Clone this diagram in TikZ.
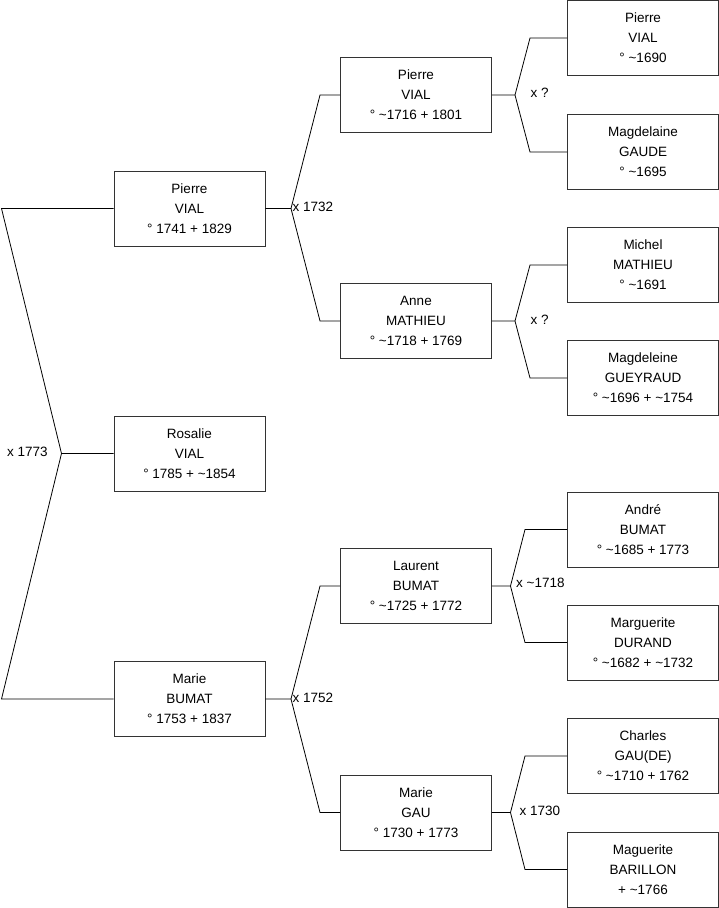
\documentclass[tikz,border=0pt]{standalone}
\usepackage{fontspec}
\setmainfont{Liberation Sans}
\usetikzlibrary{positioning}
\tikzset{
  person/.style={rectangle,draw=black!80,line width=0.9pt,minimum width=151pt,minimum height=75pt,
    align=center,inner sep=0pt,font=\fontsize{13.5}{20}\selectfont},
  link/.style={line width=0.8pt, draw=black},
  lbl/.style={font=\fontsize{13.5}{15}\selectfont,inner sep=0pt,anchor=west}
}
\begin{document}
\begin{tikzpicture}[x=1pt,y=-1pt]
\useasboundingbox (0,0) rectangle (719,908);

% generation 1
\node (pierreA) [person] at (189.5,208.5) {Pierre\\VIAL\\° 1741 + 1829};
\node (rosalie) [person] at (189.5,453.5) {Rosalie\\VIAL\\° 1785 + \textasciitilde1854};
\node (marieB) [person] at (189.5,699) {Marie\\BUMAT\\° 1753 + 1837};

% generation 2
\node (pierreB) [person] at (416,95) {Pierre\\VIAL\\° \textasciitilde1716 + 1801};
\node (anne) [person] at (416,321) {Anne\\MATHIEU\\° \textasciitilde1718 + 1769};
\node (laurent) [person] at (416,586) {Laurent\\BUMAT\\° \textasciitilde1725 + 1772};
\node (marieG) [person] at (416,812.5) {Marie\\GAU\\° 1730 + 1773};

% generation 3
\node (pierreC) [person] at (643,38) {Pierre\\VIAL\\° \textasciitilde1690};
\node (magdelaine) [person] at (643,152) {Magdelaine\\GAUDE\\° \textasciitilde1695};
\node (michel) [person] at (643,265) {Michel\\MATHIEU\\° \textasciitilde1691};
\node (magdeleine) [person] at (643,378) {Magdeleine\\GUEYRAUD\\° \textasciitilde1696 + \textasciitilde1754};
\node (andre) [person] at (643,529.5) {André\\BUMAT\\° \textasciitilde1685 + 1773};
\node (marguerite) [person] at (643,642.5) {Marguerite\\DURAND\\° \textasciitilde1682 + \textasciitilde1732};
\node (charles) [person] at (643,756) {Charles\\GAU(DE)\\° \textasciitilde1710 + 1762};
\node (maguerite) [person] at (643,869.5) {Maguerite\\BARILLON\\+ \textasciitilde1766};

% unions
\coordinate (v0) at (61.5,453.5);
\coordinate (v0a) at (1.5,208.5);
\coordinate (v0b) at (1.5,699);
\draw[link] (rosalie.west) -- (v0) -- (v0a) -- (pierreA.west);
\draw[link] (v0) -- (v0b) -- (marieB.west);

\coordinate (v1) at (291,208.5);
\coordinate (v1a) at (320,95);
\coordinate (v1b) at (320,321);
\draw[link] (pierreA.east) -- (v1) -- (v1a) -- (pierreB.west);
\draw[link] (v1) -- (v1b) -- (anne.west);

\coordinate (v2) at (291,699);
\coordinate (v2a) at (320,586);
\coordinate (v2b) at (320,812.5);
\draw[link] (marieB.east) -- (v2) -- (v2a) -- (laurent.west);
\draw[link] (v2) -- (v2b) -- (marieG.west);

\coordinate (v3) at (515,95);
\coordinate (v3a) at (530,38);
\coordinate (v3b) at (530,152);
\draw[link] (pierreB.east) -- (v3) -- (v3a) -- (pierreC.west);
\draw[link] (v3) -- (v3b) -- (magdelaine.west);

\coordinate (v4) at (515,321);
\coordinate (v4a) at (530,265);
\coordinate (v4b) at (530,378);
\draw[link] (anne.east) -- (v4) -- (v4a) -- (michel.west);
\draw[link] (v4) -- (v4b) -- (magdeleine.west);

\coordinate (v5) at (510.5,586);
\coordinate (v5a) at (525,529.5);
\coordinate (v5b) at (525,642.5);
\draw[link] (laurent.east) -- (v5) -- (v5a) -- (andre.west);
\draw[link] (v5) -- (v5b) -- (marguerite.west);

\coordinate (v6) at (510.5,812.5);
\coordinate (v6a) at (525,756);
\coordinate (v6b) at (525,869.5);
\draw[link] (marieG.east) -- (v6) -- (v6a) -- (charles.west);
\draw[link] (v6) -- (v6b) -- (maguerite.west);

% marriage labels
\node (m0) [lbl] at (7,452) {x 1773};
\node (m1) [lbl] at (292.5,207) {x 1732};
\node (m2) [lbl] at (292.5,697.5) {x 1752};
\node (m3) [lbl] at (530.5,93) {x ?};
\node (m4) [lbl] at (530.5,319.5) {x ?};
\node (m5) [lbl] at (516,583) {x \textasciitilde1718};
\node (m6) [lbl] at (519.5,810.5) {x 1730};

\end{tikzpicture}
\end{document}
